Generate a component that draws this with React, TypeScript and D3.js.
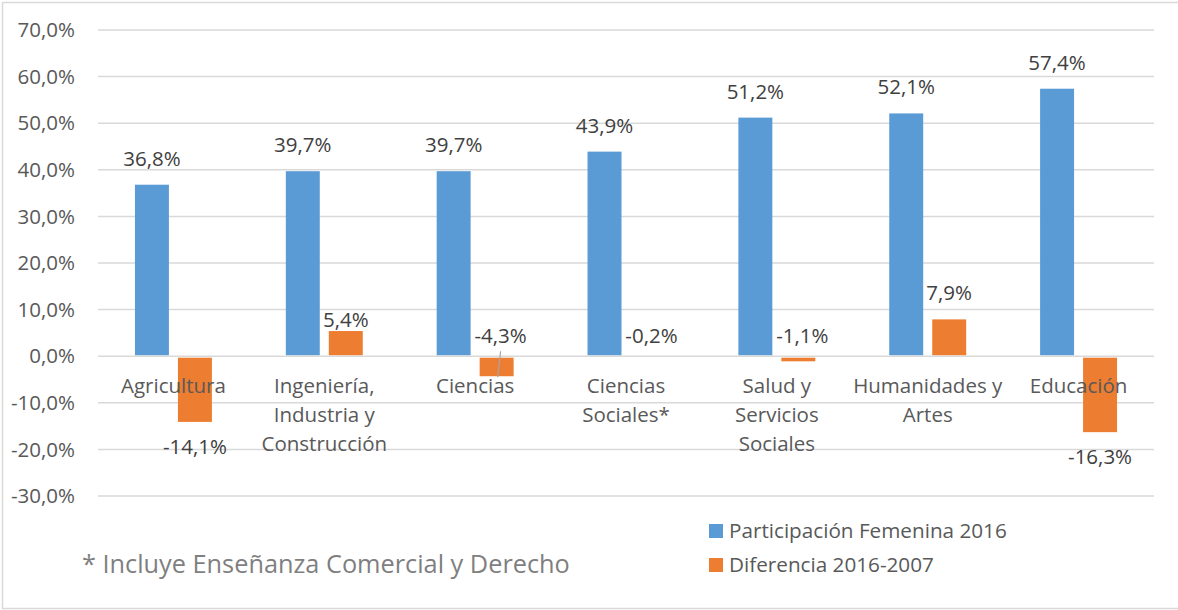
import { scaleBand, scaleLinear } from "d3";

const categories = [
  ["Agricultura"],
  ["Ingeniería,", "Industria y", "Construcción"],
  ["Ciencias"],
  ["Ciencias", "Sociales*"],
  ["Salud y", "Servicios", "Sociales"],
  ["Humanidades y", "Artes"],
  ["Educación"],
];
const seriesNames = ["Participación Femenina 2016", "Diferencia 2016-2007"];
const participacion = [36.8, 39.7, 39.7, 43.9, 51.2, 52.1, 57.4];
const diferencia = [-14.1, 5.4, -4.3, -0.2, -1.1, 7.9, -16.3];
const yTicks = [70, 60, 50, 40, 30, 20, 10, 0, -10, -20, -30];
const footnote = "* Incluye Enseñanza Comercial y Derecho";

const width = 1178;
const height = 610;
const marginLeft = 98;
const plotRight = 1154;
const yTop = 30;
const yBottom = 496;

const colors = ["#5B9BD5", "#ED7D31"];
const textColor = "#595959";
const gridColor = "#D9D9D9";
const font = "'Open Sans', sans-serif";
const fs = 20.5;

const fmt = (v: number) => v.toFixed(1).replace(".", ",") + "%";

export default function App() {
  const keys = categories.map((c) => c.join(" "));
  const x0 = scaleBand<string>()
    .domain(keys)
    .range([marginLeft, plotRight])
    .paddingInner(0.49)
    .paddingOuter(0.245);
  const x1 = scaleBand<string>()
    .domain(seriesNames)
    .range([0, x0.bandwidth()])
    .paddingInner(0.21);
  const y = scaleLinear().domain([-30, 70]).range([yBottom, yTop]);
  const y0 = y(0);
  const series = [participacion, diferencia];

  return (
    <svg
      width={width}
      height={height}
      style={{ position: "absolute", left: 0, top: 0, background: "#fff" }}
      fontFamily={font}
    >
      <rect x={2.5} y={2.5} width={width + 10} height={606} fill="#fff" stroke={gridColor} strokeWidth={1.5} />

      {yTicks.map((t) => (
        <g key={t}>
          <line x1={marginLeft} x2={plotRight} y1={y(t)} y2={y(t)} stroke={gridColor} strokeWidth={1.5} />
          <text x={75} y={y(t)} dy="0.35em" textAnchor="end" fontSize={fs} fill={textColor}>
            {fmt(t)}
          </text>
        </g>
      ))}

      {series.map((vals, si) =>
        vals.map((v, i) => {
          const bx = (x0(keys[i]) ?? 0) + (x1(seriesNames[si]) ?? 0);
          const bw = x1.bandwidth();
          const top = v >= 0 ? y(v) : y0 + 1.5;
          const h = v >= 0 ? y0 - 1 - y(v) : y(v) - y0 - 1.5;
          const cx = bx + bw / 2;
          // label placement: small orange values were nudged by hand in the original
          let ly: number;
          let leader = false;
          if (v >= 0) {
            ly = si === 1 && v < 6 ? y(v) - 4 : y(v) - 19;
          } else if (v > -5) {
            ly = y0 - 13;
            leader = v < -3;
          } else {
            ly = y(v) + 32;
          }
          return (
            <g key={si + "-" + i}>
              <rect x={bx} y={top} width={bw} height={Math.max(0, h)} fill={colors[si]} />
              {leader && (
                <line x1={cx + 4} y1={y0 - 5} x2={cx + 1} y2={y(v) + 1} stroke="#A6A6A6" strokeWidth={1.2} />
              )}
              <text x={cx + (v < 0 && v > -5 ? 4 : 0)} y={ly} textAnchor="middle" fontSize={fs} fill="#404040">
                {fmt(v)}
              </text>
            </g>
          );
        })
      )}

      {categories.map((lines, i) => {
        const cx = (x0(keys[i]) ?? 0) + x0.bandwidth() / 2;
        return (
          <text key={keys[i]} textAnchor="middle" fontSize={fs} fill={textColor}>
            {lines.map((l, j) => (
              <tspan key={j} x={cx} y={393 + j * 29}>
                {l}
              </tspan>
            ))}
          </text>
        );
      })}

      {seriesNames.map((s, i) => (
        <g key={s}>
          <rect x={709} y={524 + i * 34} width={14} height={14} fill={colors[i]} />
          <text x={729} y={538 + i * 34} fontSize={fs + 0.2} fill={textColor}>
            {s}
          </text>
        </g>
      ))}

      <text x={82} y={573} fontSize={25.3} fill="#7F7F7F">
        {footnote}
      </text>
    </svg>
  );
}
